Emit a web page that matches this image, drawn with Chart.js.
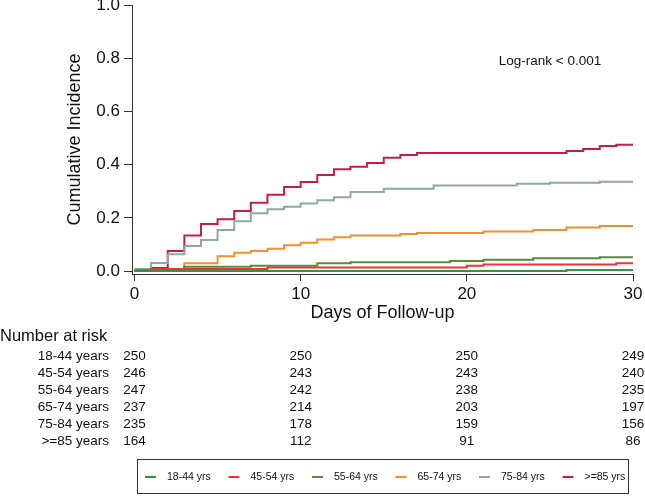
<!DOCTYPE html>
<html>
<head>
<meta charset="utf-8">
<script src="https://cdn.jsdelivr.net/npm/chart.js@4"></script>
<style>
  html, body { margin: 0; padding: 0; background: #fff; }
  canvas { display: block; }
</style>
</head>
<body>
<canvas id="cumIncChart" width="645" height="496"></canvas>
<script>
// step points (day, cumulative incidence)
const days1844 = [0, 26, 30];
const inc1844 = [0, 0.004, 0.004];

const days4554 = [0, 1, 8, 20, 21, 29, 30];
const inc4554 = [0, 0.008, 0.013, 0.020, 0.025, 0.029, 0.029];

const days5564 = [0, 3, 7, 11, 13, 19, 21, 24, 28, 30];
const inc5564 = [0.004, 0.016, 0.020, 0.029, 0.033, 0.038, 0.043, 0.048, 0.052, 0.052];

const days6574 = [0, 1, 3, 5, 6, 7, 8, 9, 10, 11, 12, 13, 16, 17, 21, 24, 26, 28, 30];
const inc6574 = [0, 0.006, 0.029, 0.056, 0.069, 0.075, 0.084, 0.097, 0.106, 0.119, 0.127, 0.134, 0.139, 0.143, 0.149, 0.154, 0.164, 0.169, 0.169];

const days7584 = [0, 1, 2, 3, 4, 5, 6, 7, 8, 9, 10, 11, 12, 13, 15, 18, 23, 25, 28, 30];
const inc7584 = [0.008, 0.030, 0.063, 0.094, 0.117, 0.154, 0.187, 0.217, 0.232, 0.242, 0.254, 0.266, 0.277, 0.297, 0.309, 0.322, 0.328, 0.332, 0.336, 0.336];

const days85 = [0, 1, 2, 3, 4, 5, 6, 7, 8, 9, 10, 11, 12, 13, 14, 15, 16, 17, 26, 27, 28, 29, 30];
const inc85 = [0, 0.012, 0.075, 0.134, 0.177, 0.195, 0.226, 0.257, 0.287, 0.316, 0.335, 0.361, 0.383, 0.392, 0.406, 0.426, 0.436, 0.444, 0.451, 0.459, 0.470, 0.475, 0.475];

const legendLabels = ['18-44 yrs', '45-54 yrs', '55-64 yrs', '65-74 yrs', '75-84 yrs', '>=85 yrs'];
const lineColors = ['#2a9a3a', '#f0303a', '#5a8a3a', '#f0902e', '#8fa9a0', '#c41e45'];

const xTicks = [0, 10, 20, 30];
const yTicks = [0, 0.2, 0.4, 0.6, 0.8, 1.0];

// number at risk table
const riskTimes = [0, 10, 20, 30];
const riskLabels = ['18-44 years', '45-54 years', '55-64 years', '65-74 years', '75-84 years', '>=85 years'];
const risk1844 = [250, 250, 250, 249];
const risk4554 = [246, 243, 243, 240];
const risk5564 = [247, 242, 238, 235];
const risk6574 = [237, 214, 203, 197];
const risk7584 = [235, 178, 159, 156];
const risk85 = [164, 112, 91, 86];
const riskRows = [risk1844, risk4554, risk5564, risk6574, risk7584, risk85];

const FONT = '"Liberation Sans", Arial, Helvetica, sans-serif';
const TEXT = '#111';

function toPoints(xs, ys) {
    return xs.map((x, i) => ({ x: x, y: ys[i] }));
}

const seriesData = [
    toPoints(days1844, inc1844),
    toPoints(days4554, inc4554),
    toPoints(days5564, inc5564),
    toPoints(days6574, inc6574),
    toPoints(days7584, inc7584),
    toPoints(days85, inc85)
];

const datasets = seriesData.map((pts, i) => ({
    label: legendLabels[i],
    data: pts,
    borderColor: lineColors[i],
    borderWidth: 2,
    pointRadius: 0,
    stepped: 'before',
    fill: false
}));

// extra bits: log-rank note, risk table, boxed legend
const extrasPlugin = {
    id: 'kmExtras',
    afterDraw(chart) {
        const ctx = chart.ctx;
        const xScale = chart.scales.x;
        ctx.save();
        ctx.fillStyle = TEXT;

        ctx.font = '13.5px ' + FONT;
        ctx.textAlign = 'center';
        ctx.textBaseline = 'middle';
        ctx.fillText('Log-rank < 0.001', 550, 61);

        ctx.font = '16.5px ' + FONT;
        ctx.textAlign = 'left';
        ctx.fillText('Number at risk', 0, 336);

        ctx.font = '13.5px ' + FONT;
        riskRows.forEach((row, r) => {
            const y = 356 + r * 17;
            ctx.textAlign = 'right';
            ctx.fillText(riskLabels[r], 109, y);
            ctx.textAlign = 'center';
            row.forEach((n, c) => {
                ctx.fillText(String(n), xScale.getPixelForValue(riskTimes[c]), y);
            });
        });

        // legend box
        ctx.strokeStyle = '#333';
        ctx.lineWidth = 1;
        ctx.strokeRect(137.5, 459.5, 491, 34);
        ctx.font = '10.5px ' + FONT;
        ctx.textAlign = 'left';
        chart.data.datasets.forEach((ds, i) => {
            const x0 = 145 + i * 83.5;
            ctx.strokeStyle = ds.borderColor;
            ctx.lineWidth = 2;
            ctx.beginPath();
            ctx.moveTo(x0, 477);
            ctx.lineTo(x0 + 11, 477);
            ctx.stroke();
            ctx.fillStyle = TEXT;
            ctx.fillText(ds.label, x0 + 22, 477.5);
        });
        ctx.restore();
    }
};

const whiteBg = {
    id: 'whiteBg',
    beforeDraw(chart) {
        const ctx = chart.ctx;
        ctx.save();
        ctx.fillStyle = '#fff';
        ctx.fillRect(0, 0, chart.width, chart.height);
        ctx.restore();
    }
};

new Chart(document.getElementById('cumIncChart'), {
    type: 'line',
    data: { datasets: datasets },
    options: {
        responsive: false,
        animation: false,
        events: [],
        layout: { padding: { top: 5, left: 0, right: 12, bottom: 172 } },
        plugins: {
            legend: { display: false },
            tooltip: { enabled: false }
        },
        scales: {
            x: {
                type: 'linear',
                min: -0.15,
                max: 30,
                afterBuildTicks: (scale) => { scale.ticks = xTicks.map(v => ({ value: v })); },
                afterFit: (scale) => {
                    scale.height = 50;
                    scale.paddingLeft = 0;
                    scale.paddingRight = 0;
                },
                grid: { drawOnChartArea: false, drawTicks: true, tickLength: 7, color: '#333', tickWidth: 1 },
                border: { display: true, color: '#333', width: 1 },
                ticks: { color: TEXT, padding: 3, maxRotation: 0, font: { family: FONT, size: 17 } },
                title: {
                    display: true,
                    text: 'Days of Follow-up',
                    color: TEXT,
                    padding: { top: 0, bottom: 0 },
                    font: { family: FONT, size: 18 }
                }
            },
            y: {
                min: -0.011,
                max: 1.0,
                afterBuildTicks: (scale) => { scale.ticks = yTicks.map(v => ({ value: v })); },
                afterFit: (scale) => {
                    scale.width = 132;
                    scale.paddingTop = 0;
                    scale.paddingBottom = 0;
                },
                grid: { drawOnChartArea: false, drawTicks: true, tickLength: 8, color: '#333', tickWidth: 1 },
                border: { display: true, color: '#333', width: 1 },
                ticks: {
                    color: TEXT,
                    padding: 4,
                    font: { family: FONT, size: 17 },
                    callback: (v) => Number(v).toFixed(1)
                },
                title: {
                    display: true,
                    text: 'Cumulative Incidence',
                    color: TEXT,
                    padding: { top: 63.8, bottom: 0 },
                    font: { family: FONT, size: 18 }
                }
            }
        }
    },
    plugins: [whiteBg, extrasPlugin]
});
</script>
</body>
</html>
